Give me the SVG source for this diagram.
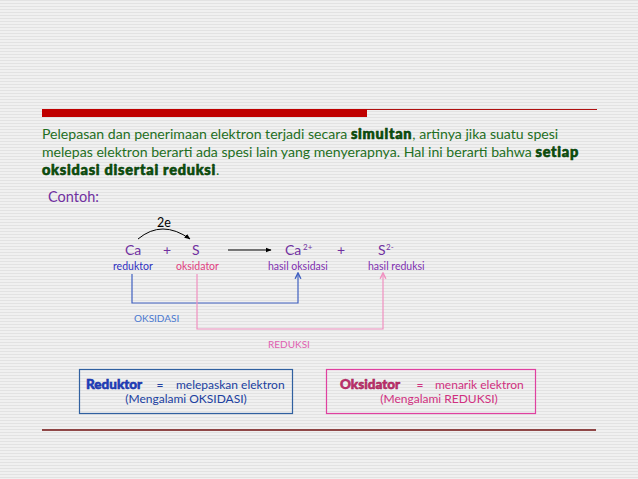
<svg xmlns="http://www.w3.org/2000/svg" width="638" height="479" viewBox="0 0 638 479">
<defs>
<pattern id="bg" width="8" height="3" patternUnits="userSpaceOnUse">
<rect width="8" height="3" fill="#f0f0f0"/>
<rect y="0" width="8" height="1" fill="#e2e2e2"/>
</pattern>
<marker id="ah" viewBox="0 0 10 10" refX="9" refY="5" markerWidth="6" markerHeight="6" orient="auto">
<path d="M0,1 L10,5 L0,9 z" fill="#000"/>
</marker>
<marker id="ahb" viewBox="0 0 10 10" refX="9" refY="5" markerWidth="6" markerHeight="6" orient="auto">
<path d="M1,1 L9,5 L1,9" fill="none" stroke="#4060c0" stroke-width="2"/>
</marker>
<marker id="ahp" viewBox="0 0 10 10" refX="9" refY="5" markerWidth="6" markerHeight="6" orient="auto">
<path d="M1,1 L9,5 L1,9" fill="none" stroke="#f090c0" stroke-width="2"/>
</marker>
</defs>
<style>
text{font-family:Lato,"Open Sans","DejaVu Sans",sans-serif}
.p{font-size:14.1px;fill:#1f6f1f}
.b{font-weight:900;font-size:14.5px;letter-spacing:0.75px;fill:#0a500a;stroke:#0a400a;stroke-width:0.6}
.chem{font-size:14px;fill:#7030a0}
.sup{font-size:8px;fill:#7030a0}
.lbl{font-size:10.5px}
</style>
<rect width="638" height="479" fill="url(#bg)"/>
<g id="header">
<rect x="42" y="109" width="325" height="8" fill="#c00000"/>
<line x1="367" y1="109.5" x2="597" y2="109.5" stroke="#b01010" stroke-width="1.2"/>
<line x1="42" y1="430" x2="596" y2="430" stroke="#701010" stroke-width="1.5"/>
</g>
<g id="paragraph">
<text class="p" x="42" y="139">Pelepasan dan penerimaan elektron terjadi secara <tspan class="b">simultan</tspan>, artinya jika suatu spesi</text>
<text class="p" x="42" y="157">melepas elektron berarti ada spesi lain yang menyerapnya. Hal ini berarti bahwa <tspan class="b">setiap</tspan></text>
<text class="p" x="42" y="175"><tspan class="b">oksidasi disertai reduksi</tspan>.</text>
</g>
<text x="48" y="202" font-size="14.5" fill="#7030a0">Contoh:</text>
<g id="reaction">
<text x="157" y="227" font-size="12.5" fill="#000">2e</text>
<text class="chem" x="125" y="255">Ca</text>
<text class="chem" x="167" y="255" text-anchor="middle">+</text>
<text class="chem" x="192" y="255">S</text>
<text class="chem" x="285" y="255">Ca</text><text class="sup" x="303" y="250">2+</text>
<text class="chem" x="341" y="255" text-anchor="middle">+</text>
<text class="chem" x="378" y="255">S</text><text class="sup" x="386" y="250">2-</text>
<text class="lbl" x="113" y="270" fill="#3030c0">reduktor</text>
<text class="lbl" x="176" y="270" fill="#e04080">oksidator</text>
<text class="lbl" x="268" y="270" fill="#8030b0">hasil oksidasi</text>
<text class="lbl" x="368" y="270" fill="#8030b0">hasil reduksi</text>
<text x="134" y="322" font-size="10" fill="#4a78d0">OKSIDASI</text>
<text x="268" y="348" font-size="10" fill="#e060b0">REDUKSI</text>
</g>
<g id="connectors" fill="none">
<path d="M138,239 Q162,219 190,239" stroke="#000" stroke-width="1" marker-end="url(#ah)"/>
<line x1="228" y1="250" x2="271" y2="250" stroke="#000" stroke-width="1" marker-end="url(#ah)"/>
<path d="M132,274 V303 H298 V273" stroke="#4060c0" stroke-width="1.2" marker-end="url(#ahb)"/>
<path d="M197,274 V329 H383 V273" stroke="#f090c0" stroke-width="1.2" marker-end="url(#ahp)"/>
</g>
<g id="box-reduktor">
<rect x="79.5" y="369.5" width="213" height="44" fill="none" stroke="#3060a0" stroke-width="1.2"/>
<text x="86" y="389" font-size="13.5" font-weight="900" fill="#2040c0" stroke="#1a30a0" stroke-width="0.5">Reduktor</text>
<text x="160" y="389" font-size="12" fill="#2040a0" text-anchor="middle">=</text>
<text x="176" y="389" font-size="12" fill="#2040a0">melepaskan elektron</text>
<text x="186" y="403" font-size="12" fill="#2040a0" text-anchor="middle">(Mengalami OKSIDASI)</text>
</g>
<g id="box-oksidator">
<rect x="326.5" y="369.5" width="209" height="44" fill="none" stroke="#e040a0" stroke-width="1.2"/>
<text x="340" y="389" font-size="13.5" font-weight="900" fill="#c03070" stroke="#a02050" stroke-width="0.5">Oksidator</text>
<text x="420" y="389" font-size="12" fill="#d03080" text-anchor="middle">=</text>
<text x="435" y="389" font-size="12" fill="#d03080">menarik elektron</text>
<text x="439" y="403" font-size="12" fill="#d03080" text-anchor="middle">(Mengalami REDUKSI)</text>
</g>
</svg>
